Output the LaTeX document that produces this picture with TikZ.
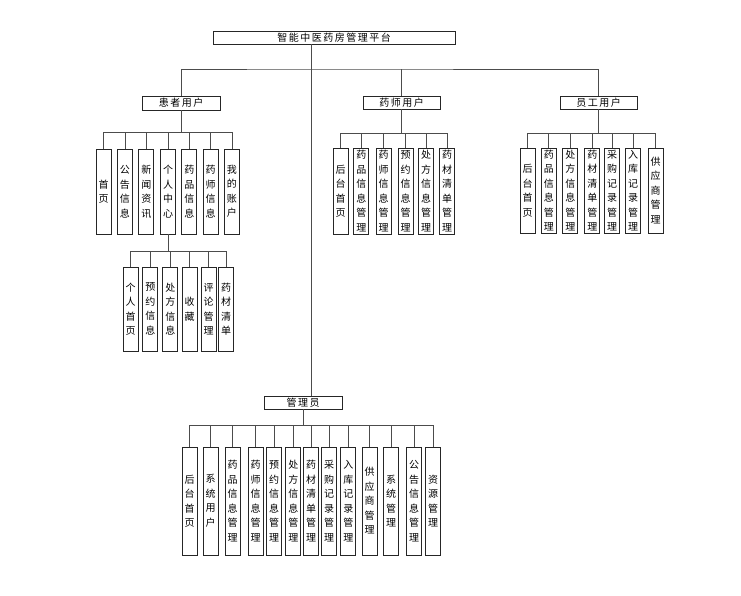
\documentclass[tikz,border=0pt]{standalone}
\usepackage{fontspec}
\newfontfamily\cjk{Noto Sans CJK SC}
\newfontfamily\cjkw[LetterSpace=15]{Noto Sans CJK SC}
\begin{document}
\begin{tikzpicture}[x=1pt,y=-1pt,
  conn/.style={draw=black!70, line width=0.8pt},
  hbox/.style={draw=black!85, line width=0.8pt, inner sep=0pt, minimum height=13pt, font=\cjkw\fontsize{10}{12}\selectfont, fill=white},
  vbox/.style={draw=black!85, line width=0.8pt, inner sep=0pt, minimum width=15pt, align=center, font=\cjk\fontsize{10}{14.5}\selectfont, fill=white},
  pbox/.style={vbox, minimum height=85pt},
  sbox/.style={vbox, minimum height=84pt},
  abox/.style={vbox, minimum height=108pt},
]
\useasboundingbox (0,0) rectangle (741,595);

% top level
\node[hbox, minimum width=242pt] (root) at (334,37.5) {智能中医药房管理平台};
\node[hbox, minimum width=78pt, minimum height=14pt] (pat) at (181,103) {患者用户};
\node[hbox, minimum width=77pt] (pha) at (401.5,102.5) {药师用户};
\node[hbox, minimum width=77pt] (emp) at (598.5,102.5) {员工用户};
\node[hbox, minimum width=78pt] (adm) at (303,402.5) {管理员};

\coordinate (tbus) at (311,69);
\draw[conn] (pat.north) |- (tbus) -| (emp.north);
\draw[conn] (pha.north) -- (pha.north |- tbus);
\draw[conn] (root.south -| tbus) -- (adm.north -| tbus);

% patient children
\node[pbox] (p1) at (103.5,191.5) {首\\页};
\node[pbox] (p2) at (124.9,191.5) {公\\告\\信\\息};
\node[pbox] (p3) at (146.3,191.5) {新\\闻\\资\\讯};
\node[pbox] (p4) at (168.2,191.5) {个\\人\\中\\心};
\node[pbox] (p5) at (189.3,191.5) {药\\品\\信\\息};
\node[pbox] (p6) at (210.5,191.5) {药\\师\\信\\息};
\node[pbox] (p7) at (231.9,191.5) {我\\的\\账\\户};
\coordinate (pbus) at (0,132);
\draw[conn] (pat.south) -- (pat.south |- pbus);
\draw[conn] (p1.north |- pbus) -- (p7.north |- pbus);
\foreach \i in {1,...,7} \draw[conn] (p\i.north) -- (p\i.north |- pbus);

% personal center children
\node[sbox] (s1) at (130.5,309) {个\\人\\首\\页};
\node[sbox] (s2) at (150.3,309) {预\\约\\信\\息};
\node[sbox] (s3) at (170.3,309) {处\\方\\信\\息};
\node[sbox] (s4) at (189.5,309) {收\\藏};
\node[sbox] (s5) at (208.5,309) {评\\论\\管\\理};
\node[sbox] (s6) at (226,309) {药\\材\\清\\单};
\coordinate (sbus) at (0,251);
\draw[conn] (p4.south) -- (p4.south |- sbus);
\draw[conn] (s1.north |- sbus) -- (s6.north |- sbus);
\foreach \i in {1,...,6} \draw[conn] (s\i.north) -- (s\i.north |- sbus);

% pharmacist children
\node[pbox, minimum height=86pt] (h1) at (340.5,191) {后\\台\\首\\页};
\node[pbox, minimum height=86pt] (h2) at (361.3,191) {药\\品\\信\\息\\管\\理};
\node[pbox, minimum height=86pt] (h3) at (383.6,191) {药\\师\\信\\息\\管\\理};
\node[pbox, minimum height=86pt] (h4) at (405.5,191) {预\\约\\信\\息\\管\\理};
\node[pbox, minimum height=86pt] (h5) at (426,191) {处\\方\\信\\息\\管\\理};
\node[pbox, minimum height=86pt] (h6) at (447,191) {药\\材\\清\\单\\管\\理};
\coordinate (hbus) at (0,133);
\draw[conn] (pha.south) -- (pha.south |- hbus);
\draw[conn] (h1.north |- hbus) -- (h6.north |- hbus);
\foreach \i in {1,...,6} \draw[conn] (h\i.north) -- (h\i.north |- hbus);

% employee children
\node[pbox] (e1) at (527.5,190.5) {后\\台\\首\\页};
\node[pbox] (e2) at (548.8,190.5) {药\\品\\信\\息\\管\\理};
\node[pbox] (e3) at (570.3,190.5) {处\\方\\信\\息\\管\\理};
\node[pbox] (e4) at (592.3,190.5) {药\\材\\清\\单\\管\\理};
\node[pbox] (e5) at (612.2,190.5) {采\\购\\记\\录\\管\\理};
\node[pbox] (e6) at (633.2,190.5) {入\\库\\记\\录\\管\\理};
\node[pbox] (e7) at (655.5,190.5) {供\\应\\商\\管\\理};
\coordinate (ebus) at (0,133);
\draw[conn] (emp.south) -- (emp.south |- ebus);
\draw[conn] (e1.north |- ebus) -- (e7.north |- ebus);
\foreach \i in {1,...,7} \draw[conn] (e\i.north) -- (e\i.north |- ebus);

% admin children
\node[abox] (a1) at (189.5,501) {后\\台\\首\\页};
\node[abox] (a2) at (210.5,501) {系\\统\\用\\户};
\node[abox] (a3) at (232.5,501) {药\\品\\信\\息\\管\\理};
\node[abox] (a4) at (255.5,501) {药\\师\\信\\息\\管\\理};
\node[abox] (a5) at (274.2,501) {预\\约\\信\\息\\管\\理};
\node[abox] (a6) at (293.3,501) {处\\方\\信\\息\\管\\理};
\node[abox] (a7) at (311,501) {药\\材\\清\\单\\管\\理};
\node[abox] (a8) at (329,501) {采\\购\\记\\录\\管\\理};
\node[abox] (a9) at (348.3,501) {入\\库\\记\\录\\管\\理};
\node[abox] (a10) at (369.5,501) {供\\应\\商\\管\\理};
\node[abox] (a11) at (391,501) {系\\统\\管\\理};
\node[abox] (a12) at (414,501) {公\\告\\信\\息\\管\\理};
\node[abox] (a13) at (433,501) {资\\源\\管\\理};
\coordinate (abus) at (0,425);
\draw[conn] (adm.south) -- (adm.south |- abus);
\draw[conn] (a1.north |- abus) -- (a13.north |- abus);
\foreach \i in {1,...,13} \draw[conn] (a\i.north) -- (a\i.north |- abus);
\end{tikzpicture}
\end{document}
